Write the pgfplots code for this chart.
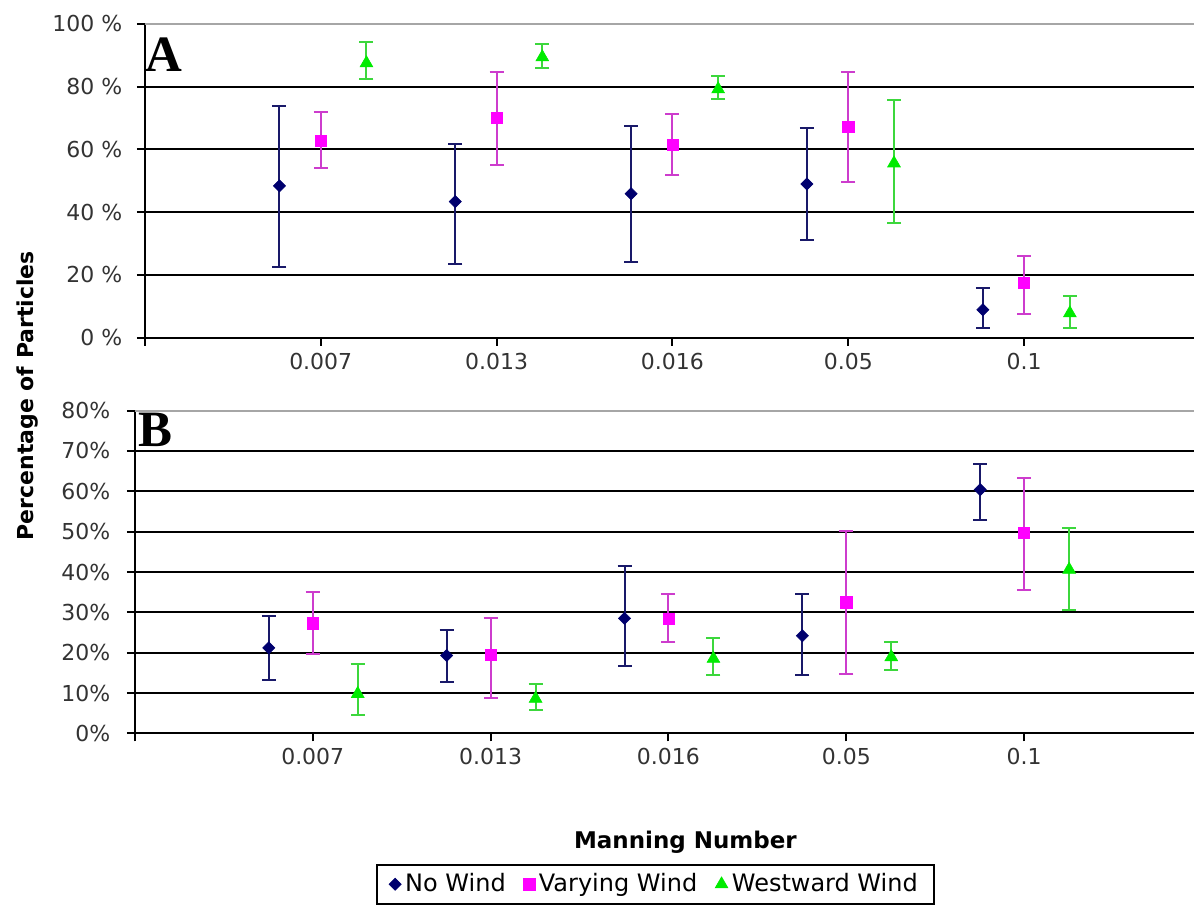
\documentclass[border=0pt]{standalone}
\usepackage{pgfplots}
\usepackage{pgfplotstable}
\pgfplotsset{compat=1.18}
\usepackage{fontspec}
\setmainfont{DejaVu Sans}
\newfontfamily\panelfont{Liberation Serif}
\definecolor{nw}{RGB}{0,0,110}
\definecolor{nwe}{RGB}{25,25,105}
\definecolor{vw}{RGB}{255,0,255}
\definecolor{vwe}{RGB}{205,60,205}
\definecolor{ww}{RGB}{0,235,0}
\definecolor{wwe}{RGB}{60,215,60}

% Panel A
\pgfplotstableread{
x y ep em
0.765 48.4 25.5 26.0
1.765 43.4 18.3 19.8
2.765 45.9 21.5 21.7
3.765 49.0 17.9 17.7
4.765 8.9 7.0 5.7
}\ANW
\pgfplotstableread{
x y ep em
1 62.7 9.3 8.5
2 70.0 14.8 15.1
3 61.6 9.7 9.9
4 67.3 17.5 17.6
5 17.4 8.6 9.8
}\AVW
\pgfplotstableread{
x y ep em
1.26 87.5 6.8 5.1
2.26 89.4 4.3 3.5
3.26 79.2 4.2 3.2
4.26 55.6 20.3 19.2
5.26 7.8 5.6 4.7
}\AWW
% Panel B
\pgfplotstableread{
x y ep em
0.753 21.2 8.0 7.9
1.753 19.3 6.4 6.6
2.753 28.5 12.9 11.7
3.753 24.2 10.4 9.8
4.753 60.4 6.4 7.4
}\BNW
\pgfplotstableread{
x y ep em
1 27.3 7.8 7.7
2 19.4 9.2 10.6
3 28.4 6.2 5.7
4 32.5 17.6 17.7
5 49.7 13.6 14.1
}\BVW
\pgfplotstableread{
x y ep em
1.253 9.8 7.4 5.3
2.253 8.6 3.7 2.7
3.253 18.5 5.2 4.1
4.253 18.9 3.7 3.2
5.253 40.6 10.3 9.9
}\BWW

\pgfplotsset{
  panel/.style={
    scale only axis, axis lines*=left, xmin=0, ymin=0,
    axis line style={line width=1pt, black},
    tick align=outside, major tick length=4pt,
    every tick/.style={black, line width=1pt},
    ymajorgrids, grid style={black, line width=1pt},
    xtick={0,1,2,3,4,5}, xticklabels={,0.007,0.013,0.016,0.05,0.1},
    tick label style={font=\fontsize{11}{13}\selectfont, text=black!80},
    clip=false,
  },
  eb/.style={error bars/.cd, y dir=both, y explicit,
    error bar style={line width=1pt, color=#1},
    error mark options={rotate=90, mark size=3.5pt, line width=1pt, color=#1}},
  snw/.style={only marks, mark=square*, mark size=2.15pt, mark options={rotate=45, draw=nw, fill=nw, line width=0.3pt}},
  svw/.style={only marks, mark=square*, mark size=2.8pt, mark options={draw=vw, fill=vw, line width=0.3pt}},
  sww/.style={only marks, mark=triangle*, mark size=3.7pt, mark options={draw=ww, fill=ww, line width=0.3pt}},
}

\begin{document}
\begin{tikzpicture}
\path (0pt,0pt) rectangle (597.5pt,454pt);

% Panel A
\begin{axis}[panel, at={(72.5pt,285pt)}, anchor=south west,
  width=525pt, height=157pt, xmax=5.966, ymax=100,
  ytick={0,20,40,60,80,100},
  yticklabels={0 \%,20 \%,40 \%,60 \%,80 \%,100 \%},
  yticklabel style={xshift=-3.8pt}]
\addplot[snw, eb=nwe] table[x=x, y=y, y error plus=ep, y error minus=em] {\ANW};
\addplot[svw, eb=vwe] table[x=x, y=y, y error plus=ep, y error minus=em] {\AVW};
\addplot[sww, eb=wwe] table[x=x, y=y, y error plus=ep, y error minus=em] {\AWW};
\draw[gray!70, line width=1pt] (rel axis cs:0,1) -- (rel axis cs:1,1);
\node[anchor=base west, inner sep=0pt, font=\panelfont\bfseries\fontsize{25.5}{28}\selectfont]
  at (axis description cs:0,0.847) {A};
\end{axis}

% Panel B
\begin{axis}[panel, at={(67.5pt,87pt)}, anchor=south west,
  width=530pt, height=161.5pt, xmax=5.955, ymax=80,
  ytick={0,10,20,30,40,50,60,70,80},
  yticklabels={0\%,10\%,20\%,30\%,40\%,50\%,60\%,70\%,80\%},
  yticklabel style={xshift=-4.8pt},
  legend columns=3,
  legend image code/.code={\draw[#1] plot coordinates {(0pt,0pt)};},
  legend style={at={(0.4915,-0.4675)}, anchor=center, draw=black, line width=1pt,
    font=\fontsize{12}{14}\selectfont, inner xsep=6pt, inner ysep=2.5pt,
    /tikz/every even column/.append style={column sep=7pt}},
  ]
\addplot[snw, eb=nwe] table[x=x, y=y, y error plus=ep, y error minus=em] {\BNW};
\addlegendentry{No Wind}
\addplot[svw, eb=vwe] table[x=x, y=y, y error plus=ep, y error minus=em] {\BVW};
\addlegendentry{Varying Wind}
\addplot[sww, eb=wwe] table[x=x, y=y, y error plus=ep, y error minus=em] {\BWW};
\addlegendentry{Westward Wind}
\draw[gray!70, line width=1pt] (rel axis cs:0,1) -- (rel axis cs:1,1);
\node[anchor=base west, inner sep=0pt, font=\panelfont\bfseries\fontsize{25.5}{28}\selectfont]
  at (axis description cs:0.003,0.889) {B};
\end{axis}

\node[rotate=90, font=\bfseries\fontsize{11}{13}\selectfont] at (14pt,256pt) {Percentage of Particles};
\node[font=\bfseries\fontsize{11.5}{13}\selectfont] at (343pt,32.5pt) {Manning Number};
\end{tikzpicture}
\end{document}
